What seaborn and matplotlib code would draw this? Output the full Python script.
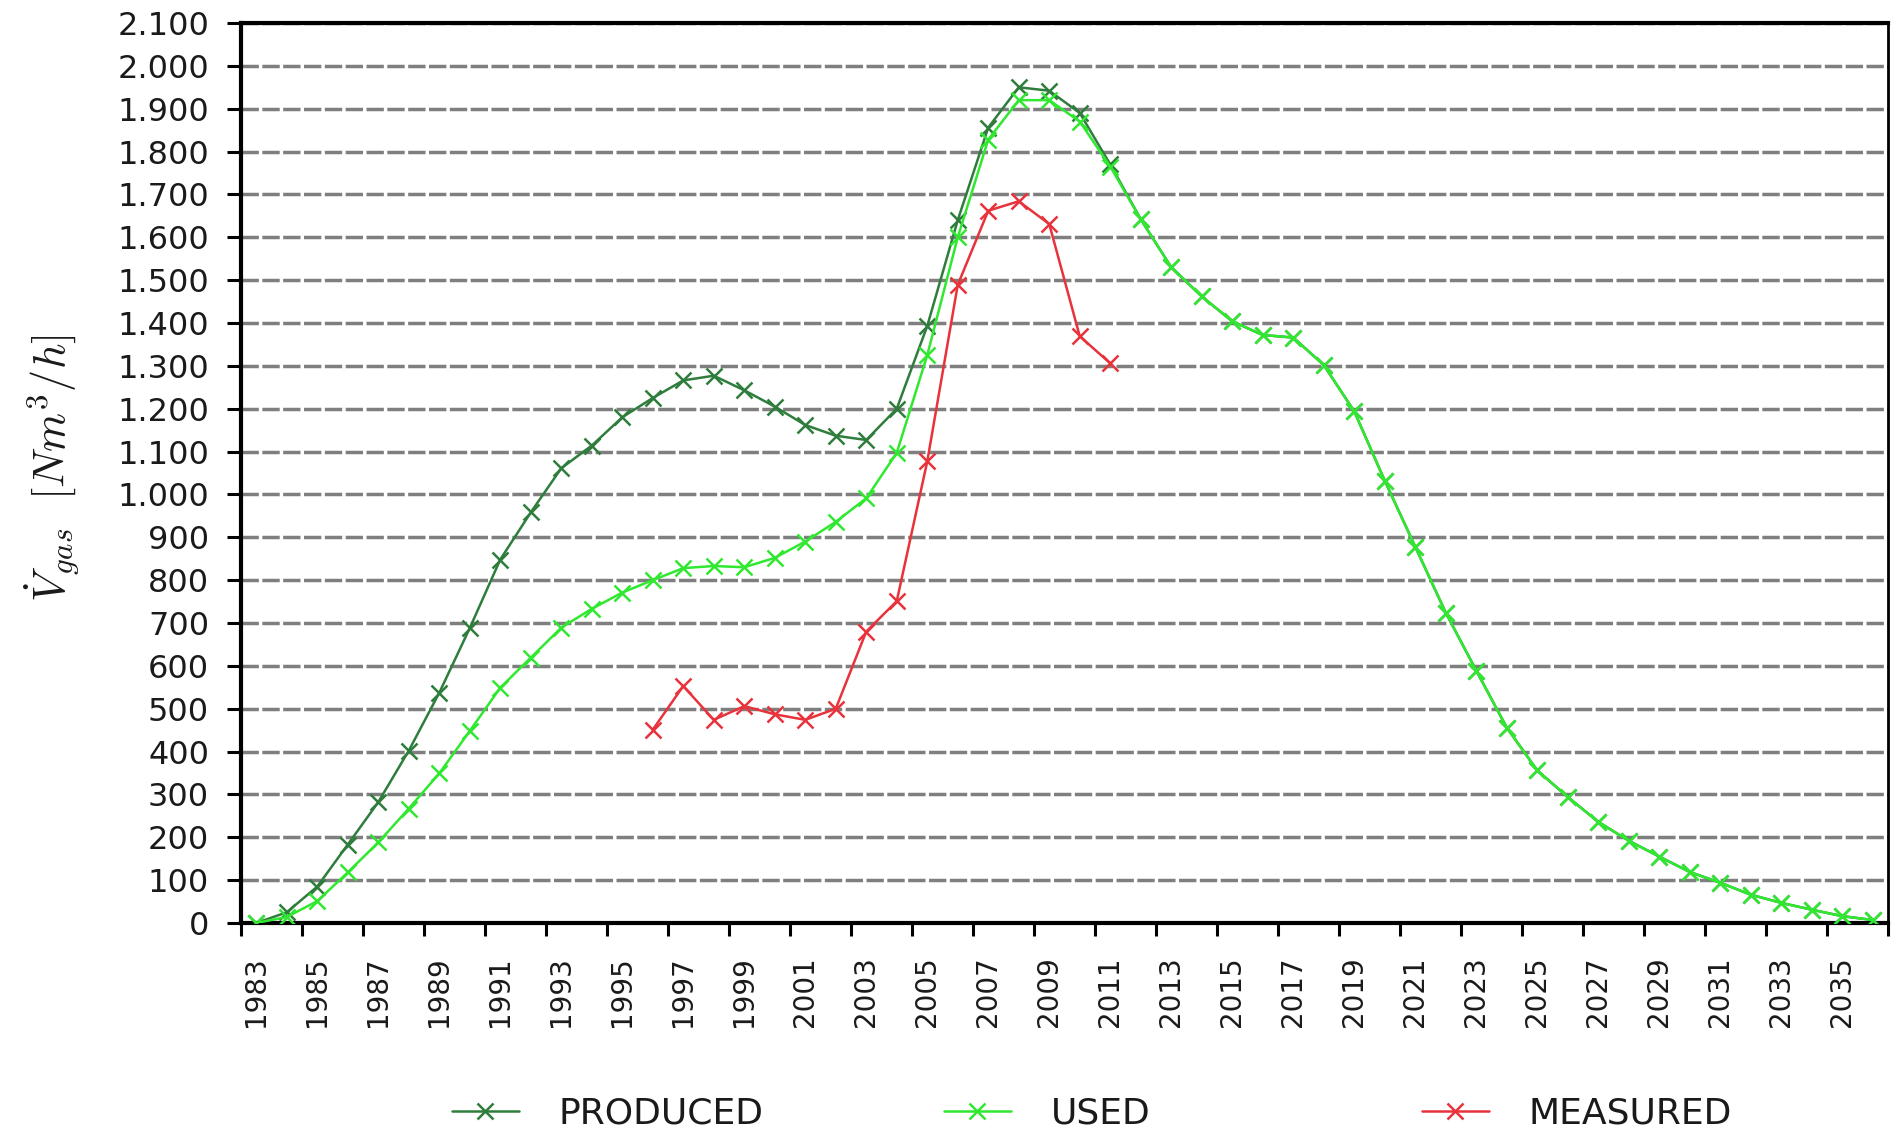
import numpy as np
import pandas as pd
import matplotlib
matplotlib.use("Agg")
import matplotlib.pyplot as plt
from matplotlib.ticker import FixedLocator, FuncFormatter, MultipleLocator
import seaborn as sns

# ---- data -----------------------------------------------------------------
years = list(range(1983, 2037))

produced = [0, 25, 85, 183, 282, 402, 537, 688, 848, 958,
            1061, 1114, 1180, 1225, 1266, 1277, 1243, 1205, 1162, 1137,
            1127, 1200, 1393, 1640, 1856, 1950, 1942, 1890, 1770, 1642,
            1530, 1462, 1404, 1372, 1366, 1302, 1194, 1032, 878, 724,
            589, 456, 356, 294, 236, 192, 155, 119, 94, 66,
            47, 31, 16, 7]

used = [0, 14, 51, 118, 188, 267, 349, 448, 549, 619,
        689, 733, 771, 800, 828, 833, 830, 852, 890, 936,
        991, 1097, 1325, 1600, 1828, 1920, 1920, 1870, 1765, 1642,
        1530, 1462, 1404, 1372, 1366, 1302, 1194, 1032, 878, 724,
        589, 456, 356, 294, 236, 192, 155, 119, 94, 66,
        47, 31, 16, 7]

measured_years = list(range(1996, 2012))
measured = [451, 553, 474, 506, 487, 474, 500, 680, 751, 1077,
            1489, 1662, 1684, 1631, 1369, 1306]

series_labels = ["PRODUCED", "USED", "MEASURED"]
series_colors = ["#2f7d3c", "#30e830", "#e8323c"]

# ---- styling --------------------------------------------------------------
sns.set_theme(style="white")
plt.rcParams["font.family"] = ["DejaVu Sans"]
plt.rcParams["mathtext.fontset"] = "cm"

fig = plt.figure(figsize=(19.02, 11.41), dpi=100)
ax = fig.add_axes([241 / 1902, 1 - 923 / 1141, 1647 / 1902, 900 / 1141])

frames = [
    pd.DataFrame({"year": years, "value": produced}),
    pd.DataFrame({"year": years, "value": used}),
    pd.DataFrame({"year": measured_years, "value": measured}),
]

for z, (df, lab, col) in enumerate(zip(frames, series_labels, series_colors)):
    sns.lineplot(data=df, x="year", y="value", ax=ax, color=col, label=lab,
                 marker="x", markersize=11.5, markeredgewidth=1.8,
                 markeredgecolor=col, markerfacecolor=col,
                 linewidth=1.8, zorder=3 + z)

# ---- axes -----------------------------------------------------------------
ax.set_xlim(years[0] - 0.5, years[-1] + 0.5)
ax.set_ylim(0, 2100)

# category boundaries carry the tick marks, labels sit on every other year
ax.xaxis.set_major_locator(FixedLocator(np.arange(years[0] - 0.5, years[-1] + 1, 2)))
ax.xaxis.set_major_formatter(FuncFormatter(lambda v, p: ""))
ax.xaxis.set_minor_locator(FixedLocator(years[::2]))
ax.xaxis.set_minor_formatter(FuncFormatter(lambda v, p: f"{int(round(v))}"))
ax.tick_params(axis="x", which="major", direction="out", length=9, width=2.2,
               color="black", bottom=True)
ax.tick_params(axis="x", which="minor", length=0, bottom=True, pad=24,
               labelsize=20, labelrotation=90, labelcolor="#1a1a1a")

ax.yaxis.set_major_locator(MultipleLocator(100))
ax.yaxis.set_major_formatter(
    FuncFormatter(lambda v, p: f"{v:,.0f}".replace(",", ".")))
ax.tick_params(axis="y", which="major", direction="out", length=10, width=2.2,
               color="black", left=True, pad=13, labelsize=23,
               labelcolor="#1a1a1a")

ax.yaxis.grid(True, color="#7f7f7f", linewidth=2.5, linestyle=(0, (5, 1)))
ax.xaxis.grid(False)
ax.set_axisbelow(True)

for side in ["left", "bottom", "top"]:
    ax.spines[side].set_visible(True)
    ax.spines[side].set_color("black")
    ax.spines[side].set_linewidth(3)
ax.spines["right"].set_visible(True)
ax.spines["right"].set_color("black")
ax.spines["right"].set_linewidth(2)

ax.set_xlabel("")
ax.set_ylabel(r"$\dot{V}_{gas}\ \ [Nm^3/h]$", fontsize=32, color="#1a1a1a")
ax.yaxis.set_label_coords(-0.097, 0.505)

# ---- legend: one slot per series below the plot ---------------------------
handles, labels = ax.get_legend_handles_labels()
ax.get_legend().remove()
slot_x = [452 / 1902, 944 / 1902, 1422 / 1902]
for h, lab, x in zip(handles, labels, slot_x):
    fig.legend([h], [lab], loc="center left",
               bbox_to_anchor=(x, 1 - 1114 / 1141),
               frameon=False, borderpad=0, borderaxespad=0,
               handlelength=1.85, handletextpad=1.1,
               fontsize=26, labelcolor="#1a1a1a")

fig.savefig("out.png", dpi=100, facecolor="white")
